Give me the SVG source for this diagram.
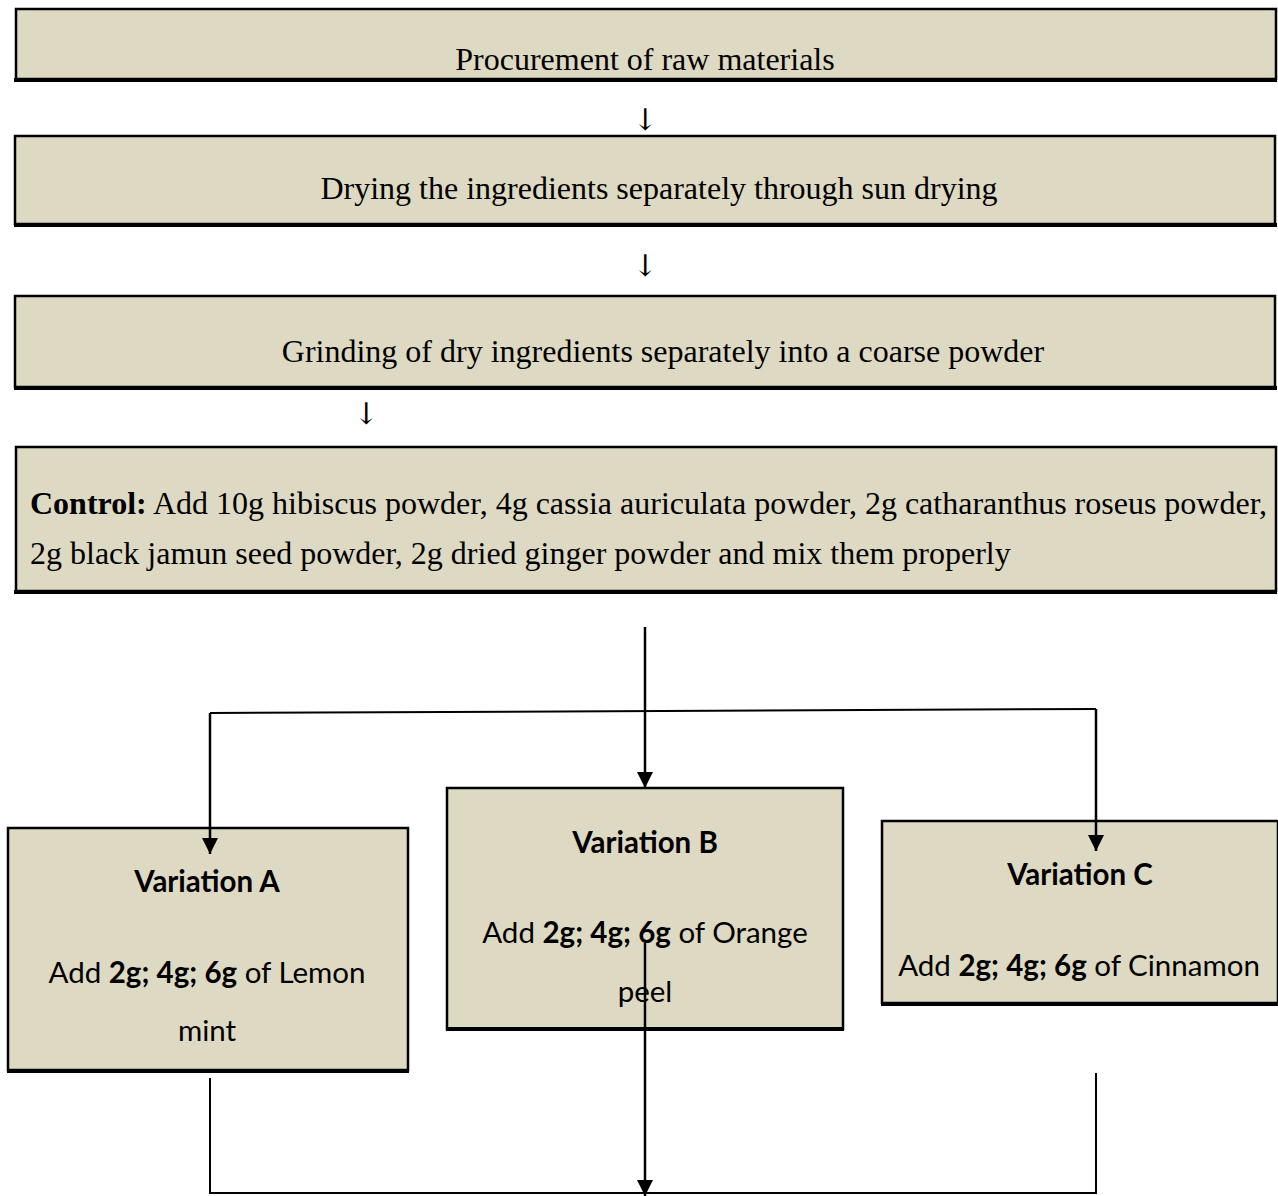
<svg xmlns="http://www.w3.org/2000/svg" width="1278" height="1196" viewBox="0 0 1278 1196">
<defs>
<marker id="ah" markerUnits="userSpaceOnUse" markerWidth="16" markerHeight="16" viewBox="0 0 16 16" refX="16" refY="8" orient="auto">
<path d="M0,0 L16,8 L0,16 Z" fill="#000"/>
</marker>
<style>
.box{fill:#DDD9C3;stroke:#000;stroke-width:2.5}
.shadow{stroke:#000;stroke-width:4;fill:none}
.tnr{font-family:"Liberation Serif","Times New Roman",serif;font-size:32px;fill:#000}
.dn{font-family:"DejaVu Serif","DejaVu Sans",serif;font-size:30px;fill:#000}
.cal{font-family:Lato,"Liberation Sans",sans-serif;font-size:29.5px;fill:#000}
.b{font-weight:bold}
.ln{stroke:#000;stroke-width:2;fill:none}
.arr{stroke:#000;stroke-width:2.5;fill:none;marker-end:url(#ah)}
</style>
</defs>
<rect width="1278" height="1196" fill="#fff"/>

<g id="n1">
<rect class="box" x="16" y="9" width="1260" height="70"/>
<line class="shadow" x1="14" y1="80" x2="1277" y2="80"/>
<text class="tnr" x="645" y="70" text-anchor="middle">Procurement of raw materials</text>
</g>
<g id="n2">
<rect class="box" x="15" y="136" width="1260" height="88"/>
<line class="shadow" x1="14" y1="225" x2="1277" y2="225"/>
<text class="tnr" x="659" y="199" text-anchor="middle">Drying the ingredients separately through sun drying</text>
</g>
<g id="n3">
<rect class="box" x="15" y="296" width="1260" height="91"/>
<line class="shadow" x1="14" y1="388" x2="1277" y2="388"/>
<text class="tnr" x="663" y="362" text-anchor="middle">Grinding of dry ingredients separately into a coarse powder</text>
</g>
<g id="n4">
<rect class="box" x="16" y="447" width="1260" height="144"/>
<line class="shadow" x1="14" y1="592" x2="1277" y2="592"/>
<text class="tnr" x="30" y="514"><tspan class="b">Control:</tspan> Add 10g hibiscus powder, 4g cassia auriculata powder, 2g catharanthus roseus powder,</text>
<text class="tnr" x="30" y="564">2g black jamun seed powder, 2g dried ginger powder and mix them properly</text>
</g>
<g id="nA">
<rect class="box" x="8" y="828" width="400" height="242"/>
<line class="shadow" x1="7" y1="1071" x2="409" y2="1071"/>
<text class="cal b" x="207" y="892" text-anchor="middle">Variation A</text>
<text class="cal" x="207" y="983" text-anchor="middle">Add <tspan class="b">2g; 4g; 6g</tspan> of Lemon</text>
<text class="cal" x="207" y="1041" text-anchor="middle">mint</text>
</g>
<g id="nB">
<rect class="box" x="447" y="788" width="396" height="241"/>
<line class="shadow" x1="446" y1="1029" x2="844" y2="1029"/>
<text class="cal b" x="645" y="853" text-anchor="middle">Variation B</text>
<text class="cal" x="645" y="943" text-anchor="middle">Add <tspan class="b">2g; 4g; 6g</tspan> of Orange</text>
<text class="cal" x="645" y="1002" text-anchor="middle">peel</text>
</g>
<g id="nC">
<rect class="box" x="882" y="821" width="396" height="182"/>
<line class="shadow" x1="881" y1="1004" x2="1278" y2="1004"/>
<text class="cal b" x="1080" y="885" text-anchor="middle">Variation C</text>
<text class="cal" x="1079" y="976" text-anchor="middle">Add <tspan class="b">2g; 4g; 6g</tspan> of Cinnamon</text>
</g>

<g id="connectors">
<text class="dn" x="645" y="130" text-anchor="middle">↓</text>
<text class="dn" x="645" y="276" text-anchor="middle">↓</text>
<text class="dn" x="366" y="424" text-anchor="middle">↓</text>
<line class="arr" x1="645" y1="627" x2="645" y2="788"/>
<line class="ln" x1="210" y1="713" x2="1096" y2="709"/>
<line class="arr" x1="210" y1="713" x2="210" y2="854"/>
<line class="arr" x1="1096" y1="709" x2="1096" y2="851"/>
<line class="arr" x1="645" y1="943" x2="645" y2="1196"/>
<polyline class="ln" points="210,1078 210,1193 1096,1193 1096,1073"/>
</g>
</svg>
